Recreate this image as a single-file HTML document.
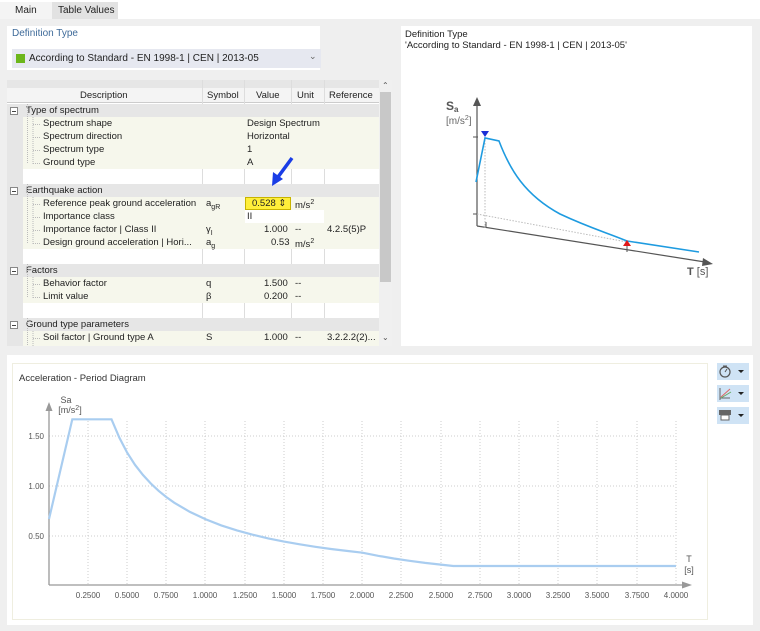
<!DOCTYPE html>
<html><head><meta charset="utf-8"><style>
*{margin:0;padding:0;box-sizing:border-box}
body{width:760px;height:631px;background:#efefef;font-family:"Liberation Sans",sans-serif;font-size:9.5px;color:#222;position:relative;overflow:hidden}
.a{position:absolute;white-space:nowrap}
.g{position:absolute;left:7px;width:372px;height:13px;background:#e6e6e6}
.r{position:absolute;left:23px;width:356px;height:13px;background:#f6f7ec}
.t{position:absolute;font-size:9.5px;white-space:nowrap;line-height:13px}
.bx{position:absolute;width:8px;height:8px;border:1px solid #888;background:#fff;left:10px}
.bx:after{content:"";position:absolute;left:1px;top:3px;width:4px;height:1px;background:#444}
.btn{position:absolute;left:717px;width:32px;height:17px;background:#cfe3f5}
</style></head><body>
<div class="a" style="left:0;top:0;width:760px;height:19px;background:#fff"></div>
<div class="a" style="left:0;top:2px;width:52px;height:17px;background:#f4f4f4"></div>
<div class="a" style="left:52px;top:2px;width:66px;height:17px;background:#e2e2e2"></div>
<div class="a" style="left:15px;top:5px;font-size:10px">Main</div>
<div class="a" style="left:58px;top:5px;font-size:10px">Table Values</div>

<div class="a" style="left:7px;top:26px;width:313px;height:44px;background:#fff"></div>
<div class="a" style="left:12px;top:28px;color:#3f6b9a;font-size:10px">Definition Type</div>
<div class="a" style="left:12px;top:49px;width:309px;height:19px;background:#e6e8f0"></div>
<div class="a" style="left:16px;top:54px;width:9px;height:9px;background:#6cb61b"></div>
<div class="a" style="left:29px;top:53px;font-size:10px">According to Standard - EN 1998-1 | CEN | 2013-05</div>
<div class="a" style="left:309px;top:51px;color:#666;font-size:9px">&#8964;</div>

<!-- table -->
<div class="a" style="left:7px;top:80px;width:385px;height:266px;background:#fff"></div>
<div class="a" style="left:7px;top:80px;width:372px;height:8px;background:#e6e6e6"></div>
<div class="a" style="left:7px;top:88px;width:372px;height:15px;background:#f4f4f4;border-bottom:1px solid #ccc"></div>
<div class="a" style="left:379px;top:80px;width:13px;height:266px;background:#f0f0f0"></div>
<div class="a" style="left:380px;top:92px;width:11px;height:190px;background:#c8c8c8"></div>
<div class="a" style="left:382px;top:81px;font-size:8px;color:#555">&#8963;</div>
<div class="a" style="left:382px;top:333px;font-size:8px;color:#555">&#8964;</div>
<div class="t" style="left:80px;top:89px">Description</div>
<div class="t" style="left:207px;top:89px">Symbol</div>
<div class="t" style="left:256px;top:89px">Value</div>
<div class="t" style="left:297px;top:89px">Unit</div>
<div class="t" style="left:329px;top:89px">Reference</div>
<div class="a" style="left:202px;top:80px;width:1px;height:266px;background:#ddd"></div>
<div class="a" style="left:244px;top:80px;width:1px;height:266px;background:#ddd"></div>
<div class="a" style="left:291px;top:80px;width:1px;height:266px;background:#ddd"></div>
<div class="a" style="left:324px;top:80px;width:1px;height:266px;background:#ddd"></div>
<div class="a" style="left:7px;top:104px;width:16px;height:242px;background:#e6e6e6"></div>

<div class="g" style="top:104px"></div><div class="bx" style="top:107px"></div><div class="t" style="left:26px;top:104px">Type of spectrum</div>
<div class="r" style="top:117px"></div><div class="r" style="top:130px"></div><div class="r" style="top:143px"></div><div class="r" style="top:156px"></div>
<div class="t" style="left:43px;top:117px">Spectrum shape</div><div class="t" style="left:247px;top:117px">Design Spectrum</div>
<div class="t" style="left:43px;top:130px">Spectrum direction</div><div class="t" style="left:247px;top:130px">Horizontal</div>
<div class="t" style="left:43px;top:143px">Spectrum type</div><div class="t" style="left:247px;top:143px">1</div>
<div class="t" style="left:43px;top:156px">Ground type</div><div class="t" style="left:247px;top:156px">A</div>

<div class="g" style="top:184px"></div><div class="bx" style="top:187px"></div><div class="t" style="left:26px;top:184px">Earthquake action</div>
<div class="r" style="top:197px"></div><div class="r" style="top:210px"></div><div class="r" style="top:223px"></div><div class="r" style="top:236px"></div>
<div class="a" style="left:245px;top:197px;width:46px;height:13px;background:#ffef3a;border:1px solid #c8b400"></div>
<div class="a" style="left:245px;top:210px;width:79px;height:13px;background:#fff"></div>
<div class="t" style="left:43px;top:197px">Reference peak ground acceleration</div><div class="t" style="left:206px;top:197px">a<sub style="font-size:7px">gR</sub></div><div class="t" style="left:252px;top:197px">0.528 &#8661;</div><div class="t" style="left:295px;top:196px">m/s<sup style="font-size:7px">2</sup></div>
<div class="t" style="left:43px;top:210px">Importance class</div><div class="t" style="left:247px;top:210px">II</div>
<div class="t" style="left:43px;top:223px">Importance factor | Class II</div><div class="t" style="left:206px;top:223px">γ<sub style="font-size:7px">I</sub></div><div class="t" style="left:264px;top:223px">1.000</div><div class="t" style="left:295px;top:223px">--</div><div class="t" style="left:327px;top:223px">4.2.5(5)P</div>
<div class="t" style="left:43px;top:236px">Design ground acceleration | Hori...</div><div class="t" style="left:206px;top:236px">a<sub style="font-size:7px">g</sub></div><div class="t" style="left:271px;top:236px">0.53</div><div class="t" style="left:295px;top:235px">m/s<sup style="font-size:7px">2</sup></div>

<div class="g" style="top:264px"></div><div class="bx" style="top:267px"></div><div class="t" style="left:26px;top:264px">Factors</div>
<div class="r" style="top:277px"></div><div class="r" style="top:290px"></div>
<div class="t" style="left:43px;top:277px">Behavior factor</div><div class="t" style="left:206px;top:277px">q</div><div class="t" style="left:264px;top:277px">1.500</div><div class="t" style="left:295px;top:277px">--</div>
<div class="t" style="left:43px;top:290px">Limit value</div><div class="t" style="left:206px;top:290px">β</div><div class="t" style="left:264px;top:290px">0.200</div><div class="t" style="left:295px;top:290px">--</div>

<div class="g" style="top:318px"></div><div class="bx" style="top:321px"></div><div class="t" style="left:26px;top:318px">Ground type parameters</div>
<div class="r" style="top:331px;height:15px"></div>
<div class="t" style="left:43px;top:331px">Soil factor | Ground type A</div><div class="t" style="left:206px;top:331px">S</div><div class="t" style="left:264px;top:331px">1.000</div><div class="t" style="left:295px;top:331px">--</div><div class="t" style="left:327px;top:331px">3.2.2.2(2)...</div>

<svg class="a" style="left:0;top:0" width="400" height="350">
<g stroke="#bbb" stroke-width="1" stroke-dasharray="1,1" fill="none">
<path d="M27.5 104v60M27.5 184v60M27.5 264v33M27.5 318v28"/>
<path d="M33 124.5h8M33 137.5h8M33 150.5h8M33 163.5h8M33 204.5h8M33 217.5h8M33 230.5h8M33 243.5h8M33 284.5h8M33 297.5h8M33 338.5h8M33 117v47M33 197v47M33 277v21M33 331v15"/>
</g>
<path d="M292 158 L278 177" stroke="#1a3de6" stroke-width="3.5"/>
<path d="M272 186 L273 172 L283 179 Z" fill="#1a3de6"/>
</svg>

<!-- right panel -->
<div class="a" style="left:401px;top:26px;width:351px;height:320px;background:#fff"></div>
<div class="a" style="left:405px;top:29px;font-size:9.5px">Definition Type</div>
<div class="a" style="left:405px;top:40px;font-size:9.5px">'According to Standard - EN 1998-1 | CEN | 2013-05'</div>
<svg class="a" style="left:401px;top:26px" width="351" height="320">
<g transform="translate(-401,-26)">
<path d="M477 226V104" stroke="#555" stroke-width="1.2"/><path d="M473 106L477 97L481 106Z" fill="#555"/>
<path d="M477 226L705 262" stroke="#555" stroke-width="1.2"/><path d="M703 258L713 264L702 266Z" fill="#555"/>
<path d="M473 137h5M473 214h5M486 222v6M627 246v6" stroke="#555"/>
<g stroke="#bbb" stroke-dasharray="1.5,1.5"><path d="M485 137V228M477 214L627 242"/></g>
<path d="M476 182L485 138L499 141C510 170 525 195 560 214C590 228 605 232 627 241L699 252" stroke="#1e9be0" stroke-width="1.6" fill="none"/>
<path d="M481 131h8l-4 6Z" fill="#1a2fd6"/><path d="M623 246h8l-4-6Z" fill="#e01818"/>
<text x="446" y="110" font-size="12" font-weight="bold" fill="#555">S<tspan font-size="8" dy="2">a</tspan></text>
<text x="446" y="124" font-size="10" fill="#666">[m/s<tspan font-size="7" dy="-4">2</tspan><tspan dy="4">]</tspan></text>
<text x="687" y="275" font-size="11" fill="#555"><tspan font-weight="bold">T</tspan> [s]</text>
</g></svg>

<!-- bottom -->
<div class="a" style="left:7px;top:355px;width:746px;height:270px;background:#fff"></div>
<div class="a" style="left:12px;top:363px;width:696px;height:257px;border:1px solid #efeee0"></div>
<div class="a" style="left:19px;top:373px;font-size:9.5px;color:#333">Acceleration - Period Diagram</div>
<div class="btn" style="top:363px"></div><div class="btn" style="top:385px"></div><div class="btn" style="top:407px"></div>
<svg class="a" style="left:0;top:0" width="760" height="631">
<circle cx="725" cy="372" r="5" fill="none" stroke="#555" stroke-width="1.2"/><path d="M725 372l2-3M723 366h4" stroke="#555"/>
<path d="M720 400V388M720 398h10" stroke="#666"/><path d="M721 397L730 389" stroke="#d66"/><path d="M721 398L731 392" stroke="#6a6"/>
<path d="M738 370h6l-3 3ZM738 392h6l-3 3ZM738 414h6l-3 3Z" fill="#222"/>
<rect x="719" y="410" width="12" height="5" fill="#666"/><rect x="721" y="415" width="8" height="5" fill="#fff" stroke="#666"/>
<g stroke="#ccc" stroke-dasharray="1,2" fill="none">
<path d="M49 436H676M49 486H676M49 536H676"/>
<path d="M88 421V584M127 421V584M166 421V584M205 421V584M245 421V584M284 421V584M323 421V584M362 421V584M401 421V584M441 421V584M480 421V584M519 421V584M558 421V584M597 421V584M637 421V584M676 421V584"/>
</g>
<path d="M49 585V408" stroke="#999" stroke-width="1.3"/><path d="M45.5 411L49 402L52.5 411Z" fill="#999"/>
<path d="M49 585H684" stroke="#999" stroke-width="1.3"/><path d="M682 581.5L692 585L682 588.5Z" fill="#999"/>
<polyline points="49,519 72.3,419.3 111.5,419.3 119.4,437.8 127.2,452.7 135,464.8 142.9,474.9 150.7,483.4 158.6,490.8 166.4,497.1 174.2,502.7 189.9,511.9 205.6,519.3 221.3,525.4 237,530.4 252.6,534.7 268.3,538.4 284,541.6 299.7,544.3 315.3,546.8 331,549 346.7,550.9 362.4,552.7 378.1,555.8 393.8,558.5 409.5,560.8 425.1,562.9 440.8,564.6 453.3,566 676,566" stroke="#a9cdf0" stroke-width="2.2" fill="none"/>
<g font-size="8" fill="#555" text-anchor="end"><text x="44" y="439">1.50</text><text x="44" y="489">1.00</text><text x="44" y="539">0.50</text></g>
<g font-size="8" fill="#555" text-anchor="middle">
<text x="88" y="598">0.2500</text><text x="127" y="598">0.5000</text><text x="166" y="598">0.7500</text><text x="205" y="598">1.0000</text><text x="245" y="598">1.2500</text><text x="284" y="598">1.5000</text><text x="323" y="598">1.7500</text><text x="362" y="598">2.0000</text><text x="401" y="598">2.2500</text><text x="441" y="598">2.5000</text><text x="480" y="598">2.7500</text><text x="519" y="598">3.0000</text><text x="558" y="598">3.2500</text><text x="597" y="598">3.5000</text><text x="637" y="598">3.7500</text><text x="676" y="598">4.0000</text>
<text x="66" y="403" font-size="9">Sa</text><text x="70" y="413" font-size="9">[m/s<tspan font-size="7" dy="-3">2</tspan><tspan dy="3">]</tspan></text>
<text x="689" y="562" font-size="9">T</text><text x="689" y="573" font-size="9">[s]</text>
</g>
</svg>
</body></html>
